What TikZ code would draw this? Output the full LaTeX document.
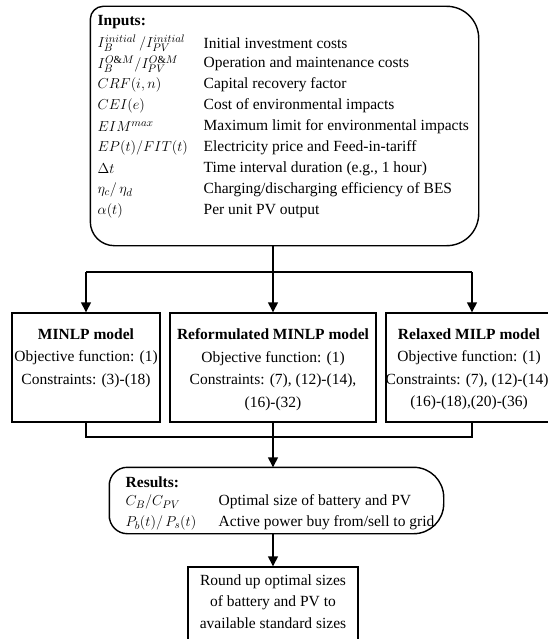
\documentclass[tikz,border=0pt]{standalone}
\usepackage{fontspec}
\setmainfont{Liberation Serif}
\usetikzlibrary{arrows.meta}
\begin{document}
\begin{tikzpicture}[x=1pt,y=-1pt,line width=1.4pt,
  font=\fontsize{15.5}{19}\selectfont,
  arr/.style={-{Triangle[length=10pt,width=10pt]}},
  lbl/.style={anchor=west,inner sep=0pt},
  box/.style={draw,inner sep=0pt},
  ghost/.style={inner sep=0pt},
  boxtext/.style={anchor=north,align=center,inner sep=0pt,font=\fontsize{15.5}{22.5}\selectfont}]
\useasboundingbox (0,0) rectangle (547,639);
% Inputs box (outline drawn with unequal corner radii)
\node[ghost,minimum width=387pt,minimum height=238pt] (inputs) at (284.5,126) {};
\draw (inputs.west) [rounded corners=13pt] -- (inputs.north west)
      [rounded corners=32pt] -- (inputs.north east) -- (inputs.south east)
      [rounded corners=24pt] -- (inputs.south west) -- cycle;
\node[lbl] (inh) at (97,22) {\textbf{Inputs:}};
\node[lbl] (s1) at (97,43) {$I_B^{initial}\,/I_{PV}^{initial}$};
\node[lbl] (d1) at (203,43) {Initial investment costs};
\node[lbl] (s2) at (97,64) {$I_B^{O\&M}/I_{PV}^{O\&M}$};
\node[lbl] (d2) at (203,64) {Operation and maintenance costs};
\node[lbl] (s3) at (97,85) {$CRF(i,n)$};
\node[lbl] (d3) at (203,85) {Capital recovery factor};
\node[lbl] (s4) at (97,106) {$CEI(e)$};
\node[lbl] (d4) at (203,106) {Cost of environmental impacts};
\node[lbl] (s5) at (97,127) {$EIM^{max}$};
\node[lbl] (d5) at (203,127) {Maximum limit for environmental impacts};
\node[lbl] (s6) at (97,148) {$EP(t)/FIT(t)$};
\node[lbl] (d6) at (203,148) {Electricity price and Feed-in-tariff};
\node[lbl] (s7) at (97,169) {$\Delta t$};
\node[lbl] (d7) at (203,169) {Time interval duration (e.g., 1 hour)};
\node[lbl] (s8) at (97,190) {$\eta_c/\,\eta_d$};
\node[lbl] (d8) at (203,190) {Charging/discharging efficiency of BES};
\node[lbl] (s9) at (97,211) {$\alpha(t)$};
\node[lbl] (d9) at (203,211) {Per unit PV output};
% model boxes
\node[box,minimum width=148pt,minimum height=109pt] (m1) at (86,367.5) {};
\node[box,minimum width=206pt,minimum height=109pt] (m2) at (273,367.5) {};
\node[box,minimum width=176pt,minimum height=109pt] (m3) at (474,367.5) {};
\node[boxtext] (t1) at (86,328) {\textbf{MINLP model}\\Objective function: (1)\\Constraints: (3)-(18)};
\node[boxtext] (t2) at (273,328) {\textbf{Reformulated MINLP model}\\Objective function: (1)\\Constraints: (7), (12)-(14),\\(16)-(32)};
\node[boxtext] (t3) at (469,328) {\textbf{Relaxed MILP model}\\Objective function: (1)\\Constraints: (7), (12)-(14),\\(16)-(18),(20)-(36)};
% results box
\node[ghost,minimum width=333pt,minimum height=65pt] (res) at (276.5,500.5) {};
\draw (res.west) [rounded corners=18pt] -- (res.north west)
      [rounded corners=30pt] -- (res.north east) -- (res.south east)
      [rounded corners=18pt] -- (res.south west) -- cycle;
\node[lbl] (rh) at (125,482) {\textbf{Results:}};
\node[lbl] (r1) at (125,502) {$C_B/C_{PV}$};
\node[lbl] (rd1) at (218,502) {Optimal size of battery and PV};
\node[lbl] (r2) at (125,523) {$P_b(t)/\,P_s(t)$};
\node[lbl] (rd2) at (218,523) {Active power buy from/sell to grid};
% final box
\node[box,minimum width=170pt,minimum height=90pt] (fin) at (273,612) {};
\node[boxtext,font=\fontsize{15.5}{21.5}\selectfont] (ft) at (273,574) {Round up optimal sizes\\of battery and PV to\\available standard sizes};
% connectors
\coordinate (j1) at (273,272);
\coordinate (jl) at (86,272);
\coordinate (jr) at (472,272);
\coordinate (k1) at (273,437);
\coordinate (kl) at (86,437);
\coordinate (kr) at (472,437);
\draw (inputs.south -| j1) -- (j1);
\draw (jl) -- (jr);
\draw[arr] (jl) -- (m1.north -| jl);
\draw[arr] (j1) -- (m2.north);
\draw[arr] (jr) -- (m3.north -| jr);
\draw (m1.south -| kl) -- (kl) -- (kr) -- (m3.south -| kr);
\draw[arr] (m2.south) -- (res.north -| k1);
\draw[arr] (res.south -| k1) -- (fin.north);
\end{tikzpicture}
\end{document}
